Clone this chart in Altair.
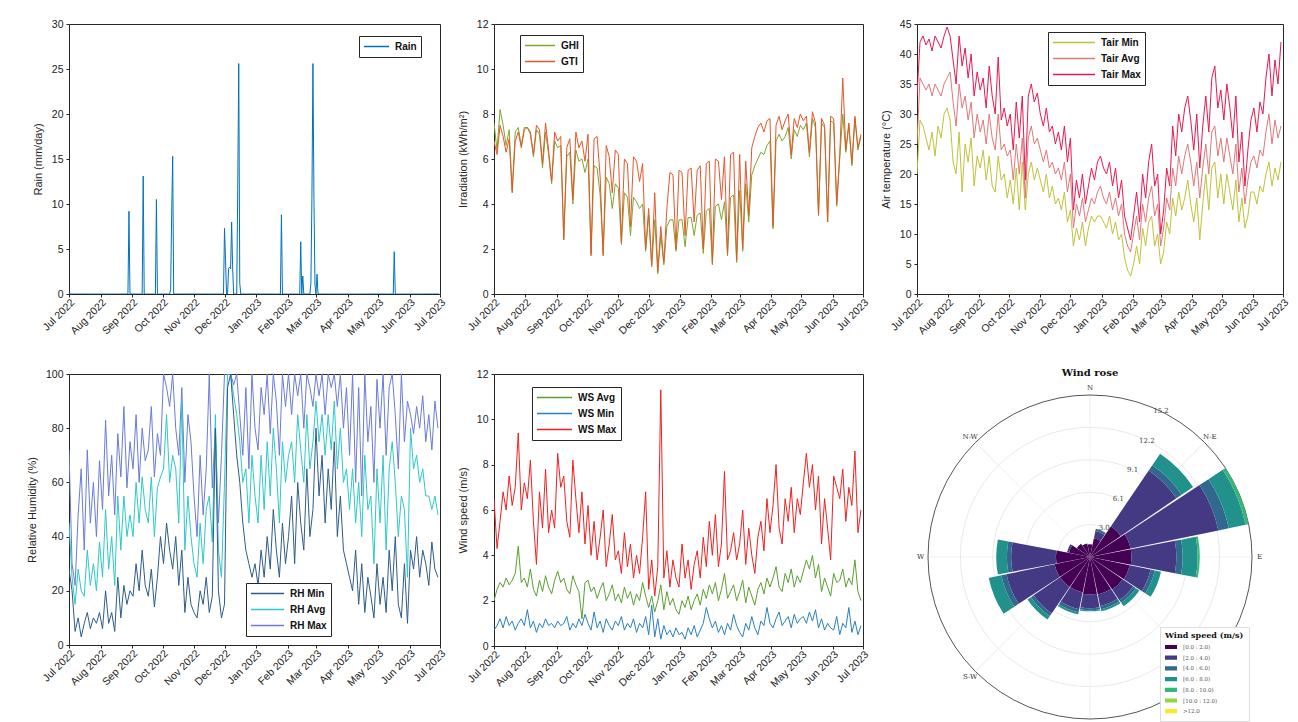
import math
import altair as alt
import pandas as pd

# ---------------- data ----------------
DATES = pd.date_range("2022-07-01", periods=122, freq="3D").strftime("%Y-%m-%d").tolist()

GHI = [7.6, 6.4, 8.2, 7.5, 6.6, 7.3, 4.6, 7.2, 7.4, 6.6, 7.4,
       7.4, 7.1, 6.1, 7.3, 7.1, 5.6, 7.2, 6.2, 4.9, 6.8,
       6.5, 6.6, 2.5, 6.1, 6.3, 4.0, 6.4, 5.9, 6.0, 5.4,
       6.0, 1.8, 5.7, 5.6, 4.4, 1.8, 5.2, 4.9, 3.8, 4.9,
       4.7, 2.2, 4.5, 4.3, 2.6, 4.3, 4.1, 3.8, 4.0, 1.9,
       3.5, 1.2, 3.3, 0.9, 2.6, 1.3, 3.0, 3.3, 3.3, 1.9, 3.3,
       3.3, 2.1, 3.4, 3.4, 2.6, 3.5, 3.6, 1.8, 3.7, 3.8,
       1.3, 3.9, 4.0, 3.3, 4.1, 1.7, 4.3, 4.4, 1.4,
       4.6, 1.9, 4.9, 3.2, 5.3, 5.7, 6.0, 6.3, 6.2, 6.6, 6.8,
       2.9, 6.8, 7.1, 6.8, 7.0, 7.4, 6.0, 7.3, 7.0, 7.5,
       7.3, 7.6, 6.1, 7.8, 7.4, 3.5, 7.6, 7.4, 3.2, 7.7,
       7.6, 3.9, 6.0, 8.0, 6.3, 7.5, 5.7, 7.8, 6.4, 7.0]
GTI = [6.8, 6.2, 7.5, 7.0, 6.3, 6.9, 4.5, 6.8, 7.2, 6.5, 7.3,
       7.4, 7.2, 6.2, 7.5, 7.3, 5.8, 7.6, 6.4, 5.0, 7.2,
       6.8, 7.0, 2.4, 6.5, 6.9, 4.2, 7.2, 6.5, 6.8, 5.9,
       7.1, 1.7, 6.9, 7.0, 5.2, 1.7, 6.6, 6.1, 4.5, 6.4,
       6.2, 2.3, 6.0, 5.8, 3.0, 6.1, 5.9, 5.0, 5.8, 2.0,
       3.8, 1.3, 4.5, 1.0, 3.0, 1.4, 3.8, 5.4, 5.3, 2.0, 5.5,
       5.4, 2.6, 5.5, 5.6, 3.2, 5.5, 5.7, 2.0, 5.8, 5.9,
       1.4, 6.0, 5.9, 4.2, 6.1, 1.8, 6.2, 6.3, 1.5,
       6.2, 2.0, 5.9, 3.5, 6.5, 7.0, 7.4, 7.6, 7.2, 7.7, 7.8,
       3.0, 7.5, 7.9, 7.3, 7.7, 8.0, 6.2, 7.8, 7.4, 8.0,
       7.7, 7.9, 6.3, 8.1, 7.6, 3.5, 7.8, 7.5, 3.2, 7.9,
       7.8, 4.0, 6.2, 9.6, 6.4, 7.6, 5.8, 7.9, 6.5, 7.1]

TAIR_MIN = [20, 29, 28, 26, 24, 27, 23, 28, 26, 30, 31,
            29, 22, 20, 27, 17, 25, 22, 26, 18, 23,
            21, 24, 19, 23, 18, 17, 23, 19, 20, 16,
            19, 15, 21, 14, 22, 14, 20, 22, 19, 21,
            19, 17, 20, 16, 18, 15, 16, 14, 17, 12,
            14, 8, 11, 9, 12, 8, 11, 13, 12, 13, 13,
            12, 11, 13, 10, 12, 9, 10, 6, 4, 3,
            5, 8, 5, 11, 8, 12, 13, 8, 10,
            5, 7, 12, 10, 16, 13, 17, 14, 16, 19, 15,
            12, 16, 9, 15, 20, 14, 21, 22, 16, 20,
            15, 20, 17, 14, 19, 12, 16, 11, 13, 17,
            17, 15, 18, 17, 20, 22, 18, 21, 19, 22]
TAIR_AVG = [25, 36, 35, 34, 35, 33, 35, 34, 33, 35, 36,
            37, 32, 28, 35, 31, 33, 29, 32, 26, 30,
            27, 29, 25, 30, 26, 24, 30, 24, 25, 23,
            24, 19, 25, 20, 26, 16, 26, 28, 25, 26,
            24, 22, 24, 21, 22, 20, 21, 19, 22, 17,
            20, 11, 15, 13, 16, 12, 14, 16, 15, 17, 18,
            16, 15, 17, 14, 16, 13, 15, 10, 8, 7,
            10, 13, 9, 15, 12, 16, 18, 13, 15,
            8, 11, 16, 14, 21, 18, 23, 20, 23, 25, 22,
            18, 22, 16, 21, 25, 20, 27, 28, 23, 26,
            22, 26, 23, 20, 25, 17, 21, 15, 19, 22,
            23, 21, 24, 23, 27, 30, 25, 29, 26, 28]
TAIR_MAX = [33, 42, 43, 41.5, 42.5, 40.5, 43, 42, 41, 43, 44.5,
            43, 39, 35, 43, 38, 41, 36, 40, 33, 37,
            34, 36, 31, 38, 33, 30, 39.5, 29, 31, 28,
            30, 24, 32, 26, 33, 19, 33, 35, 32, 33.5,
            30, 28, 31, 27, 28, 25, 27, 24, 28, 22,
            26, 14, 19, 16, 20, 15, 18, 21, 19, 22, 23,
            21, 20, 22, 18, 21, 16, 19, 13, 11, 9,
            13, 17, 12, 20, 16, 22, 25, 18, 20,
            10, 14, 21, 18, 28, 23, 30, 27, 31, 33, 29,
            24, 30, 21, 28, 33, 27, 36, 38, 31, 34,
            29, 35, 31, 26, 33, 22, 27, 18, 24, 29,
            31, 27, 32, 30, 36, 40, 33, 39, 35, 42]

RH_MIN = [28, 20, 5, 10, 3, 8, 12, 6, 10, 8, 12,
          6, 20, 8, 12, 5, 25, 10, 22, 15, 20,
          18, 30, 20, 35, 22, 18, 28, 14, 25, 40,
          30, 45, 35, 28, 40, 22, 35, 12, 25, 15,
          12, 10, 20, 15, 25, 12, 18, 80, 20, 10,
          15, 95, 100, 85, 70, 60, 45, 35, 30, 25, 30,
          22, 35, 25, 40, 28, 50, 35, 25, 45, 30,
          40, 55, 30, 60, 45, 35, 65, 40, 50,
          80, 55, 70, 45, 65, 50, 75, 40, 55, 35, 30,
          25, 20, 35, 15, 30, 12, 25, 18, 10, 30,
          15, 25, 12, 35, 20, 40, 15, 10, 30, 8,
          35, 28, 40, 25, 35, 30, 22, 38, 28, 25]
RH_AVG = [45, 25, 15, 28, 20, 18, 35, 22, 30, 20, 38,
          25, 50, 28, 40, 22, 55, 35, 55, 40, 48,
          40, 60, 45, 62, 50, 45, 62, 40, 58, 62,
          65, 85, 60, 70, 65, 45, 90, 35, 55, 40,
          30, 25, 45, 30, 50, 55, 38, 85, 35, 25,
          60, 100, 100, 92, 85, 75, 60, 65, 45, 70, 55,
          45, 70, 50, 75, 55, 80, 65, 45, 75, 60,
          70, 75, 60, 85, 72, 60, 85, 65, 75,
          90, 75, 85, 70, 85, 72, 90, 65, 80, 60, 65,
          50, 65, 45, 60, 40, 70, 50, 55, 30, 65,
          45, 70, 35, 65, 75, 60, 40, 55, 50, 25,
          80, 65, 70, 60, 65, 55, 55, 50, 55, 48]
RH_MAX = [72, 30, 22, 48, 65, 35, 72, 45, 60, 40, 68,
          50, 83, 55, 70, 48, 78, 62, 88, 58, 75,
          65, 85, 60, 80, 68, 72, 88, 62, 78, 70,
          100, 95, 88, 100, 80, 70, 95, 60, 85, 75,
          55, 40, 70, 48, 65, 100, 58, 80, 45, 70,
          100, 100, 100, 96, 100, 85, 70, 95, 65, 100, 80,
          72, 95, 85, 100, 78, 100, 90, 70, 100, 88,
          100, 85, 100, 92, 100, 80, 100, 95, 88,
          100, 92, 100, 85, 100, 95, 100, 88, 100, 80, 95,
          70, 100, 60, 95, 55, 100, 75, 88, 60, 98,
          80, 100, 70, 95, 100, 85, 65, 100, 75, 90,
          85, 78, 88, 80, 92, 75, 85, 72, 90, 80]

WS_AVG = [2.0, 2.5, 2.8, 2.6, 3.0, 2.7, 2.9, 3.2, 4.4, 2.8, 3.0,
          2.6, 3.4, 2.5, 2.2, 2.9, 2.4, 3.1, 2.6, 2.3, 2.9,
          3.3, 2.8, 3.0, 2.5, 2.3, 3.1, 2.7, 2.4, 1.2, 2.8,
          2.9, 2.4, 2.6, 2.1, 2.5, 2.8, 2.0, 2.3, 2.7, 2.0,
          2.3, 1.9, 2.6, 2.1, 2.4, 1.8, 2.3, 2.0, 2.8, 2.2,
          1.7, 2.2, 1.5, 2.0, 2.7, 1.6, 2.4, 1.8, 2.1, 1.6, 1.4,
          2.0, 1.7, 2.2, 1.6, 2.0, 2.3, 1.8, 2.5, 2.1, 2.7,
          2.3, 2.8, 2.0, 2.5, 3.2, 2.1, 2.4, 2.7, 2.0,
          2.4, 2.9, 1.9, 2.6, 2.2, 1.8, 2.5, 2.8, 2.3, 3.0, 2.6,
          3.0, 3.5, 2.6, 2.4, 3.2, 2.8, 3.4, 2.6, 3.1, 2.8,
          3.3, 3.8, 3.4, 4.0, 3.0, 3.6, 2.4, 3.0, 2.6, 2.2,
          3.2, 2.8, 2.9, 3.4, 2.6, 3.0, 2.7, 3.8, 2.4, 2.0]
WS_MIN = [0.7, 0.9, 1.2, 0.8, 1.3, 0.9, 1.1, 0.7, 1.0, 1.2, 0.9,
          1.6, 0.8, 1.1, 0.6, 1.0, 0.8, 1.2, 0.9, 1.0, 0.8,
          1.1, 0.9, 1.0, 1.3, 0.7, 1.0, 0.8, 1.2, 0.9, 1.4,
          1.0, 0.7, 1.5, 0.8, 1.1, 0.6, 1.2, 0.9, 0.7, 1.1,
          0.9, 1.3, 0.7, 1.0, 0.8, 1.2, 0.6, 1.0, 0.8, 1.3,
          0.5, 1.8, 0.4, 1.2, 0.3, 0.9, 0.5, 0.7, 0.4, 0.8, 0.5,
          0.6, 0.3, 0.8, 0.5, 0.9, 0.4, 0.7, 1.0, 1.7, 1.2,
          0.8, 1.1, 0.6, 0.9, 0.5, 1.0, 0.7, 1.4, 0.9,
          0.6, 0.4, 1.0, 0.7, 1.3, 0.8, 0.5, 1.1, 0.9, 1.7, 1.0,
          0.8, 1.2, 1.5, 0.9, 1.1, 1.3, 0.8, 1.4, 1.0, 1.2,
          1.3, 1.0, 1.5, 1.1, 1.6, 0.8, 1.2, 0.7, 1.0, 0.8,
          0.7, 1.3, 0.5, 1.0, 0.8, 1.7, 0.6, 1.1, 0.5, 0.9]
WS_MAX = [6.5, 4.3, 5.5, 6.8, 6.0, 7.5, 6.2, 7.0, 9.4, 6.0, 7.2,
          6.5, 8.2, 5.5, 3.6, 6.8, 5.2, 7.8, 5.0, 6.0, 5.2,
          8.5, 7.0, 7.5, 5.5, 4.8, 8.2, 6.5, 5.0, 6.8, 4.5,
          6.2, 4.0, 5.5, 3.8, 4.8, 6.0, 3.5, 4.5, 5.8, 3.8,
          4.2, 3.2, 5.0, 3.5, 4.5, 3.0, 4.0, 3.2, 4.8, 6.8,
          2.5, 3.8, 2.2, 3.5, 11.3, 3.0, 4.2, 2.6, 3.8, 3.0, 2.6,
          4.5, 3.0, 3.8, 2.5, 3.6, 4.2, 3.0, 4.8, 3.5, 5.5,
          4.0, 5.8, 3.5, 4.5, 7.7, 3.8, 4.2, 5.0, 3.8,
          4.5, 6.0, 3.6, 5.2, 4.0, 3.2, 4.8, 5.5, 4.2, 6.5, 5.0,
          6.2, 8.0, 5.2, 4.5, 6.5, 5.5, 7.0, 5.0, 6.5, 5.8,
          7.2, 8.5, 7.0, 8.0, 6.0, 7.5, 4.5, 6.5, 5.2, 3.8,
          7.5, 7.0, 6.5, 7.8, 5.5, 7.0, 6.2, 8.6, 5.0, 6.0]

RAIN_DATES = ["2022-08-29", "2022-09-12", "2022-09-25", "2022-10-09", "2022-10-10",
              "2022-10-11", "2022-12-01", "2022-12-02", "2022-12-05", "2022-12-06",
              "2022-12-07", "2022-12-08", "2022-12-09", "2022-12-14", "2022-12-15",
              "2022-12-16", "2023-01-26", "2023-02-14", "2023-02-16", "2023-02-24",
              "2023-02-25", "2023-02-26", "2023-02-27", "2023-02-28", "2023-03-02",
              "2023-05-17"]
RAIN_MM = [9.2, 13.1, 10.5, 0.5, 8.8,
           15.3, 7.3, 3.8, 2.8, 3.0,
           2.8, 8.0, 2.9, 11.6, 25.6,
           1.2, 8.8, 5.8, 2.0, 1.2,
           10.8, 25.6, 10.5, 1.0, 2.2,
           4.7]

# wind rose: 16 sectors, frequency (%) per speed bin
WR_DIRS = [0, 22.5, 45, 67.5, 90, 112.5, 135, 157.5, 180, 202.5, 225, 247.5, 270, 292.5, 315, 337.5]
WR_BIN_LABELS = ["[0.0 : 2.0)", "[2.0 : 4.0)", "[4.0 : 6.0)", "[6.0 : 8.0)",
                 "[8.0 : 10.0)", "[10.0 : 12.0)", ">12.0"]
WR_COLORS = ["#440154", "#443983", "#31688e", "#21918c", "#35b779", "#90d743", "#fde725"]
WR_B0 = [1.2, 1.8, 3.5, 3.9, 3.9, 3.8, 3.7, 3.6, 3.5, 3.4, 3.4, 3.4, 3.2, 2.0, 1.5, 1.3]
WR_B1 = [0.0, 0.7, 6.3, 8.4, 4.2, 2.0, 1.2, 1.1, 1.3, 1.6, 3.0, 4.6, 4.2, 0.2, 0.0, 0.0]
WR_B2 = [0.0, 0.2, 0.6, 1.0, 0.6, 0.4, 0.3, 0.3, 0.2, 0.3, 0.3, 0.5, 0.4, 0.0, 0.0, 0.0]
WR_B3 = [0.0, 0.0, 1.3, 1.6, 1.4, 0.6, 0.4, 0.2, 0.1, 0.2, 0.4, 1.2, 1.0, 0.0, 0.0, 0.0]
WR_B4 = [0.0, 0.0, 0.0, 0.3, 0.2, 0.0, 0.0, 0.0, 0.0, 0.0, 0.0, 0.0, 0.0, 0.0, 0.0, 0.0]
WR_B5 = [0.0] * 16
WR_B6 = [0.0] * 16
WR_RINGS = [3.04, 6.08, 9.12, 12.16]
WR_RMAX = 15.2
WR_RING_LABELS = ["3.0", "6.1", "9.1", "12.2", "15.2"]
WR_COMPASS_DIRS = [0, 45, 90, 180, 225, 270, 315]
WR_COMPASS = ["N", "N-E", "E", "S", "S-W", "W", "N-W"]

# ---------------- helpers ----------------
FONT = "Liberation Sans"
SERIF = "DejaVu Serif"
INK = "#262626"

for nm, s in [("GHI", GHI), ("GTI", GTI), ("TMIN", TAIR_MIN), ("TAVG", TAIR_AVG), ("TMAX", TAIR_MAX),
              ("RHMIN", RH_MIN), ("RHAVG", RH_AVG), ("RHMAX", RH_MAX),
              ("WSAVG", WS_AVG), ("WSMIN", WS_MIN), ("WSMAX", WS_MAX)]:
    assert len(s) == len(DATES), (nm, len(s))

T0 = alt.DateTime(year=2022, month=7, date=1, utc=True)
T1 = alt.DateTime(year=2023, month=7, date=1, utc=True)
MONTH_TICKS = [alt.DateTime(year=2022 + (6 + k) // 12, month=(6 + k) % 12 + 1, date=1, utc=True)
               for k in range(13)]


def long_df(pairs):
    rows = []
    for name, vals in pairs:
        for d, v in zip(DATES, vals):
            rows.append({"date": d, "series": name, "value": v})
    return pd.DataFrame(rows)


def x_enc():
    return alt.X("date:T",
                 scale=alt.Scale(type="utc", domain=[T0, T1]),
                 axis=alt.Axis(title=None, values=MONTH_TICKS,
                               labelExpr="utcFormat(datum.value, '%b %Y')",
                               labelAngle=-45, labelAlign="right", labelBaseline="top",
                               labelPadding=0, tickSize=3, domain=False, grid=False,
                               labelFlush=False, labelOverlap=False))


def line_legend(lx, ly, sym_len):
    return alt.Legend(orient="none", legendX=lx, legendY=ly, title=None,
                      strokeColor=INK, fillColor="white", padding=4,
                      symbolType="stroke", symbolSize=sym_len * sym_len, symbolStrokeWidth=1.5,
                      labelFont=FONT, labelFontSize=10, labelFontWeight="bold", labelColor="#111111",
                      clipHeight=13, rowPadding=3, labelOffset=5)


def ts_panel(df, names, colors, ytitle, ymax, ystep, lx, ly, sym_len, w, h):
    enc = dict(
        x=x_enc(),
        y=alt.Y("value:Q", scale=alt.Scale(domain=[0, ymax], nice=False, zero=True),
                axis=alt.Axis(title=ytitle, values=list(range(0, ymax + 1, ystep)),
                              domain=False, grid=False, tickSize=3, labelPadding=3, titlePadding=8)),
        color=alt.Color("series:N", scale=alt.Scale(domain=names, range=colors),
                        legend=line_legend(lx, ly, sym_len)),
    )
    return alt.Chart(df).mark_line(strokeWidth=1, clip=True).encode(**enc).properties(width=w, height=h)


# ---------------- time-series panels ----------------
rain_map = dict(zip(RAIN_DATES, RAIN_MM))
days = pd.date_range("2022-07-01", "2023-06-30").strftime("%Y-%m-%d").tolist()
rain_df = pd.DataFrame({"date": days, "series": "Rain", "value": [rain_map.get(d, 0.0) for d in days]})

p1 = ts_panel(rain_df, ["Rain"], ["#0072BD"], "Rain (mm/day)", 30, 5, 290, 12, 25, 371, 270)
p2 = ts_panel(long_df([("GHI", GHI), ("GTI", GTI)]), ["GHI", "GTI"], ["#7FA62E", "#E4572A"],
              "Irradiation (kWh/m\u00b2)", 12, 2, 26, 11, 30, 369, 270)
p3 = ts_panel(long_df([("Tair Min", TAIR_MIN), ("Tair Avg", TAIR_AVG), ("Tair Max", TAIR_MAX)]),
              ["Tair Min", "Tair Avg", "Tair Max"], ["#BFC23A", "#E07878", "#E8184F"],
              "Air temperature (\u00b0C)", 45, 5, 131, 8, 42, 366, 270)
p4 = ts_panel(long_df([("RH Max", RH_MAX), ("RH Avg", RH_AVG), ("RH Min", RH_MIN)]),
              ["RH Min", "RH Avg", "RH Max"], ["#2E5C8A", "#2EC8C8", "#6B7BD6"],
              "Relative Humidity (%)", 100, 20, 177, 209, 33, 371, 271)
p5 = ts_panel(long_df([("WS Avg", WS_AVG), ("WS Min", WS_MIN), ("WS Max", WS_MAX)]),
              ["WS Avg", "WS Min", "WS Max"], ["#5C9E31", "#2A7FC0", "#F02020"],
              "Wind speed (m/s)", 12, 2, 38, 13, 35, 369, 272)

# ---------------- wind rose ----------------
bins = [WR_B0, WR_B1, WR_B2, WR_B3, WR_B4, WR_B5, WR_B6]
rose_rows = []
for i, d in enumerate(WR_DIRS):
    cum = 0.0
    for b in range(7):
        v = bins[b][i]
        if v > 0:
            rose_rows.append({"t0": d - 11.25 + 0.45, "t1": d + 11.25 - 0.45,
                              "r0": cum, "r1": cum + v, "bin": WR_BIN_LABELS[b]})
        cum += v
rose_df = pd.DataFrame(rose_rows)

W6, H6 = 346, 366
R_PX = 162
theta_scale = alt.Scale(domain=[0, 360], range=[0, 2 * math.pi])
r_scale = alt.Scale(type="linear", domain=[0, WR_RMAX], range=[0, R_PX], zero=True)

rings = alt.Chart(pd.DataFrame({"r": WR_RINGS})).mark_arc(
    theta=0, theta2=2 * math.pi, fillOpacity=0, stroke="#e3e3e3", strokeWidth=0.8
).encode(radius=alt.Radius("r:Q", scale=r_scale, stack=False))

outer = alt.Chart(pd.DataFrame({"r": [WR_RMAX]})).mark_arc(
    theta=0, theta2=2 * math.pi, fillOpacity=0, stroke="#555555", strokeWidth=1
).encode(radius=alt.Radius("r:Q", scale=r_scale, stack=False))

spokes_df = pd.DataFrame({"a0": [k * 45 - 0.12 for k in range(8)],
                          "a1": [k * 45 + 0.12 for k in range(8)],
                          "r": [WR_RMAX] * 8})
spokes = alt.Chart(spokes_df).mark_arc(fill="#e3e3e3").encode(
    theta=alt.Theta("a0:Q", scale=theta_scale, stack=False),
    theta2="a1:Q",
    radius=alt.Radius("r:Q", scale=r_scale, stack=False))

rlab_df = pd.DataFrame({"a": [26] * 5, "r": WR_RINGS + [WR_RMAX], "t": WR_RING_LABELS})
rlabels = alt.Chart(rlab_df).mark_text(font=SERIF, fontSize=7, color="#444444").encode(
    theta=alt.Theta("a:Q", scale=theta_scale, stack=False),
    radius=alt.Radius("r:Q", scale=r_scale, stack=False),
    text="t:N")

bars = alt.Chart(rose_df).mark_arc(stroke="transparent").encode(
    theta=alt.Theta("t0:Q", scale=theta_scale, stack=False),
    theta2="t1:Q",
    radius=alt.Radius("r1:Q", scale=r_scale, stack=False),
    radius2="r0:Q",
    color=alt.Color("bin:N", scale=alt.Scale(domain=WR_BIN_LABELS, range=WR_COLORS),
                    legend=alt.Legend(orient="none", legendX=243, legendY=253,
                                      title="Wind speed (m/s)", titleFont=SERIF, titleFontSize=8,
                                      titleFontWeight="bold", titleColor="#111111", titlePadding=3,
                                      labelFont=SERIF, labelFontSize=5.5, labelColor="#555555",
                                      symbolType="M-1,-0.35H1V0.35H-1Z", symbolSize=144,
                                      symbolStrokeWidth=0, symbolOpacity=1,
                                      fillColor="white", strokeColor="#dddddd", padding=5,
                                      clipHeight=8, rowPadding=2.7, labelOffset=6)))

dlab_df = pd.DataFrame({"a": WR_COMPASS_DIRS, "r": [15.9] * len(WR_COMPASS_DIRS), "t": WR_COMPASS})
dlabels = alt.Chart(dlab_df).mark_text(font=SERIF, fontSize=7, color="#333333").encode(
    theta=alt.Theta("a:Q", scale=theta_scale, stack=False),
    radius=alt.Radius("r:Q", scale=r_scale, stack=False),
    text="t:N")

p6 = alt.layer(rings, spokes, rlabels, outer, bars, dlabels).properties(
    width=W6, height=H6,
    view=alt.ViewBackground(stroke="transparent"),
    title=alt.TitleParams("Wind rose", font=SERIF, fontSize=10, fontWeight="bold",
                          color="#111111", anchor="middle", offset=-4))

# ---------------- layout ----------------
chart = alt.concat(p1, p2, p3, p4, p5, p6, columns=3,
                   spacing={"row": 80, "column": 54}, bounds="flush", align="each").resolve_scale(
    color="independent", x="independent", y="independent").resolve_legend(
    color="independent").properties(
    padding={"left": 25, "top": 18, "right": 0, "bottom": 0}, background="white"
).configure_view(stroke=INK, strokeWidth=1).configure_axis(
    labelFont=FONT, labelFontSize=10.5, labelColor="#222222", titleFont=FONT, titleFontSize=11,
    titleColor=INK, titleFontWeight="normal", tickColor=INK)

chart.save("out.html", embed_options={"renderer": "svg", "actions": False})
